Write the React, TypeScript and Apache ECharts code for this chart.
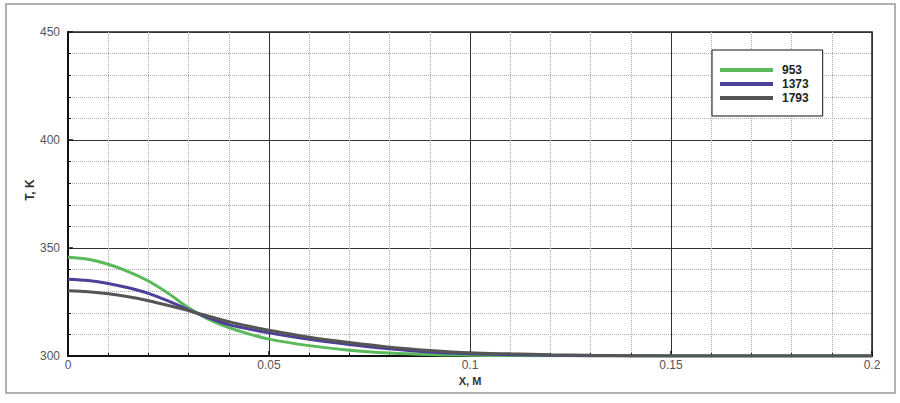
import React, { useEffect, useRef } from "react";
import * as echarts from "echarts";

const xValues = [0, 0.005, 0.01, 0.015, 0.02, 0.025, 0.03, 0.035, 0.04, 0.045, 0.05, 0.06, 0.07, 0.08, 0.09, 0.1, 0.11, 0.12, 0.13, 0.14, 0.15, 0.175, 0.2];
const series953 = [345.7, 344.8, 342.5, 339.1, 334.7, 328.9, 322.3, 316.9, 313.1, 310.2, 307.8, 304.8, 302.7, 301.4, 300.7, 300.4, 300.2, 300.1, 300.05, 300, 300, 300, 300];
const series1373 = [335.5, 334.9, 333.6, 331.6, 329.0, 325.4, 321.4, 317.7, 314.5, 312.5, 310.7, 307.7, 305.3, 303.3, 301.8, 301, 300.6, 300.3, 300.15, 300.05, 300, 300, 300];
const series1793 = [330.2, 329.7, 328.8, 327.4, 325.6, 323.4, 321.0, 318.4, 315.9, 313.8, 311.9, 308.7, 306.2, 304.1, 302.6, 301.5, 301, 300.6, 300.3, 300.15, 300.05, 300, 300];
const seriesNames = ["953", "1373", "1793"];
const seriesColors = ["#5ab95a", "#4b4199", "#555555"];
const xName = "X, M";
const yName = "T, K";

export default function App() {
  const ref = useRef<HTMLDivElement>(null);
  useEffect(() => {
    if (!ref.current) return;
    const chart = echarts.init(ref.current, undefined, { renderer: "svg" });
    const all = [series953, series1373, series1793];
    chart.setOption({
      animation: false,
      backgroundColor: "#ffffff",
      textStyle: { fontFamily: "Liberation Sans, Arial, sans-serif" },
      grid: {
        left: 68, right: 28, top: 32, bottom: 47,
        show: true, borderColor: "#222", borderWidth: 1.5,
      },
      graphic: [
        {
          type: "rect",
          shape: { x: 6, y: 4, width: 889, height: 389 },
          style: { fill: "none", stroke: "#999", lineWidth: 1.5 },
          silent: true,
        },
        {
          type: "text",
          x: 470, y: 381,
          style: { text: xName, fontSize: 11, fontWeight: "bold", fill: "#333", align: "center", verticalAlign: "middle", fontFamily: "Liberation Sans, Arial, sans-serif" },
          silent: true,
        },
        {
          type: "text",
          x: 30, y: 190, rotation: Math.PI / 2,
          style: { text: yName, fontSize: 12, fontWeight: "bold", fill: "#333", align: "center", verticalAlign: "middle", fontFamily: "Liberation Sans, Arial, sans-serif" },
          silent: true,
        },
      ],
      legend: {
        left: 712, top: 50,
        orient: "vertical",
        data: seriesNames,
        icon: "rect",
        itemWidth: 53, itemHeight: 4, itemGap: 0,
        backgroundColor: "#fff",
        borderColor: "#111", borderWidth: 1,
        padding: [13, 14, 11, 8],
        textStyle: { fontSize: 12, fontWeight: "bold", color: "#222", lineHeight: 14, padding: [0, 0, 0, 4] },
      },
      xAxis: {
        type: "value", min: 0, max: 0.2, interval: 0.05,
        axisLine: { show: true, lineStyle: { color: "#111", width: 2 } },
        axisTick: { show: true, inside: true, length: 5, lineStyle: { color: "#111", width: 1.5 } },
        minorTick: { show: true, splitNumber: 5, length: 3, lineStyle: { color: "#111" } },
        axisLabel: { fontSize: 12, color: "#555", margin: 3 },
        splitLine: { show: true, lineStyle: { color: "#333", width: 1 } },
        minorSplitLine: { show: true, lineStyle: { color: "#aaa", type: "dotted", width: 1 } },
      },
      yAxis: {
        type: "value", min: 300, max: 450, interval: 50,
        axisLine: { show: true, lineStyle: { color: "#111", width: 2 } },
        axisTick: { show: true, inside: true, length: 5, lineStyle: { color: "#111", width: 1.5 } },
        minorTick: { show: true, splitNumber: 5, length: 3, lineStyle: { color: "#111" } },
        axisLabel: { fontSize: 12, color: "#555", margin: 8 },
        splitLine: { show: true, lineStyle: { color: "#333", width: 1 } },
        minorSplitLine: { show: true, lineStyle: { color: "#aaa", type: "dotted", width: 1 } },
      },
      series: seriesNames.map((n, i) => ({
        name: n,
        type: "line",
        smooth: 0.3,
        showSymbol: false,
        symbol: "none",
        color: seriesColors[i],
        lineStyle: { color: seriesColors[i], width: 3 },
        data: xValues.map((x, j) => [x, all[i][j]]),
        z: 3 + i,
      })),
    });
    return () => chart.dispose();
  }, []);
  return <div ref={ref} style={{ position: "fixed", left: 0, top: 0, width: 900, height: 403 }} />;
}
